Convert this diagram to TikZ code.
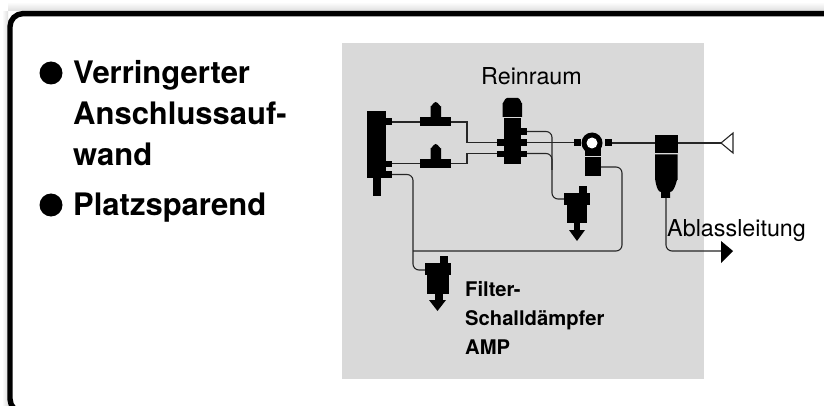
\documentclass[tikz,border=0pt]{standalone}
\usepackage{fontspec}
\setmainfont{TeX Gyre Heros}
\tikzset{
 blk/.style={fill=black,draw=none},
 pipe/.style={draw=black!85,line width=1.1pt,rounded corners=6pt},
 straight/.style={draw=black!85,line width=1.1pt},
 big/.style={font=\bfseries\fontsize{31}{34}\selectfont,anchor=base west,inner sep=0pt},
 small/.style={font=\fontsize{23.3}{25}\selectfont,anchor=base west,inner sep=0pt},
 mid/.style={font=\bfseries\fontsize{20.2}{29}\selectfont,anchor=base west,inner sep=0pt,align=left},
}
\begin{document}
\begin{tikzpicture}[x=1pt,y=-1pt]
\useasboundingbox (0,0) rectangle (824,406);
\fill[white] (0,0) rectangle (824,406);
\shade[top color=white,bottom color=black!13] (8,2) rectangle (824,11);
\shade[left color=white,right color=black!13] (2,12) rectangle (8,406);
\begin{scope}
\clip (0,0) rectangle (824,406);
\draw[line width=5.4pt,rounded corners=13pt] (30,412) -- (10,412) -- (10,13.6) -- (830,13.6);
\end{scope}
\fill[black!15] (342,43) rectangle (704,379);
% pipes
\draw[straight] (392,122) -- (420,122);
\draw[straight] (392,163.5) -- (420,163.5);
\draw[straight] (451,122) -- (467,122) -- (467,142.5) -- (497,142.5);
\draw[straight] (451,163.5) -- (467,163.5) -- (467,153.5) -- (497,153.5);
\draw[pipe] (527,131.5) -- (552,131.5) -- (552,199) -- (565,199);
\draw[pipe] (527,153.5) -- (552,153.5) -- (552,170);
\draw[straight] (527,142.5) -- (574,142.5);
\draw[straight] (612,143) -- (655,143);
\draw[straight] (677,143) -- (721,143);
\draw[pipe] (392,174.5) -- (413,174.5) -- (413,270) -- (426,270);
\draw[pipe] (601,167) -- (622,167) -- (622,251) -- (413,251);
\draw[pipe] (666,198) -- (666,251) -- (722,251);
% left block
\fill[blk] (367,111) rectangle (386,178);
\fill[blk] (373,178) rectangle (381,196);
\fill[blk] (386,118) rectangle (392,125);
\fill[blk] (386,161) rectangle (392,167);
\fill[blk] (386,171) rectangle (392,178);
% T pieces
\fill[blk] (420,117) rectangle (451,126);
\fill[blk] (430.5,118) -- (430.5,106) to[out=-90,in=180] (435.7,102) to[out=0,in=-90] (441,106) -- (441,118) -- cycle;
\fill[blk] (420,159) rectangle (451,168);
\fill[blk] (430.5,160) -- (430.5,148) to[out=-90,in=180] (435.7,144) to[out=0,in=-90] (441,148) -- (441,160) -- cycle;
% valve
\fill[blk] (503.5,118) rectangle (521,164);
\fill[blk] (502.5,117) -- (502.5,103) to[out=-85,in=180] (507,98) -- (518,98) to[out=0,in=-95] (522,103) -- (522,117) -- cycle;
\fill[blk] (497,139) rectangle (503.5,146);
\fill[blk] (497,151) rectangle (503.5,157);
\fill[blk] (521,128) rectangle (527,135);
\fill[blk] (521,139) rectangle (527,146);
\fill[blk] (521,151) rectangle (527,157);
% regulator
\fill[blk] (574,139) rectangle (581,146);
\fill[blk] (605,139) rectangle (612,146);
\fill[blk] (592,143) circle (10.5);
\fill[blk] (585,146) rectangle (601,156);
\fill[blk] (585,157) rectangle (601,176);
\fill[white] (592,143) circle (5.5);
% right filter
\fill[blk] (655,135) rectangle (677.5,153.5);
\fill[blk] (655,154.5) -- (677.5,154.5) -- (677.5,180) to[out=90,in=0] (670,192) -- (670,198) -- (661,198) -- (661,192) to[out=180,in=90] (655,180) -- cycle;
\draw[black!85,line width=1.1pt] (721,143) -- (733,133) -- (733,153) -- cycle;
\fill[blk] (721,241) -- (733,251) -- (721,263) -- cycle;
% silencers
\fill[blk] (579,186) rectangle (587,193);
\fill[blk] (564,193) rectangle (590,205);
\fill[blk] (566.5,205) rectangle (587,223);
\fill[blk] (574,223) rectangle (580,230);
\fill[blk] (569,230) -- (585,230) -- (577,241) -- cycle;
\fill[blk] (440,256) rectangle (448,263);
\fill[blk] (425,263) rectangle (450.5,275);
\fill[blk] (427,275) rectangle (449,294);
\fill[blk] (435,294) rectangle (443,300);
\fill[blk] (429,300) -- (446,300) -- (437.5,311) -- cycle;
% texts
\fill[blk] (51,73) circle (11.5);
\fill[blk] (51,205) circle (11.5);
\node[big] (t1) at (73,84) {Verringerter};
\node[big] (t2) at (73,125) {Anschlussauf-};
\node[big] (t3) at (73,166) {wand};
\node[big] (t4) at (73,215) {Platzsparend};
\node[small] (r) at (481,85) {Reinraum};
\node[small] (a) at (667,236) {Ablassleitung};
\node[mid] (f1) at (465,296) {Filter-};
\node[mid] (f2) at (465,325) {Schalldämpfer};
\node[mid] (f3) at (465,354) {AMP};
\end{tikzpicture}
\end{document}
